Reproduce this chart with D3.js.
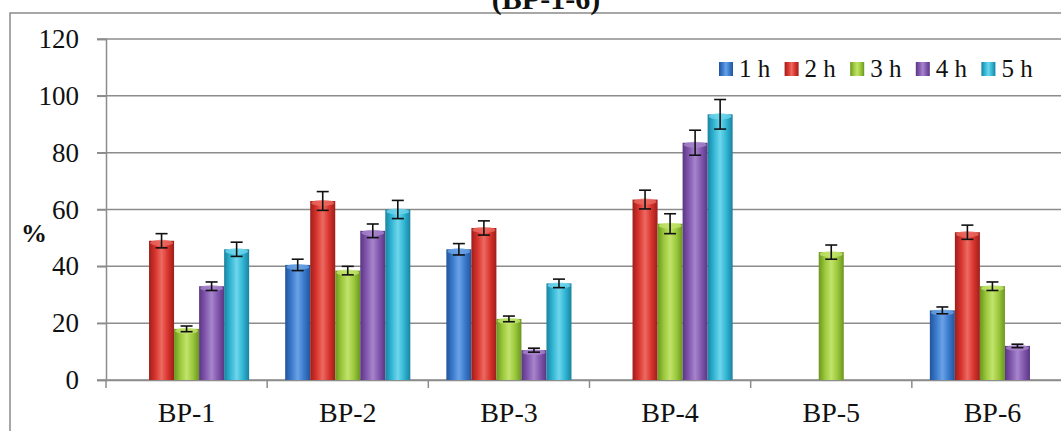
<!DOCTYPE html>
<html>
<head>
<meta charset="utf-8">
<script src="https://cdn.jsdelivr.net/npm/d3@7"></script>
<style>
  html, body { margin: 0; padding: 0; background: #fff; overflow: hidden; }
</style>
</head>
<body>
<div id="chart"></div>
<script>
const categories = ['BP-1', 'BP-2', 'BP-3', 'BP-4', 'BP-5', 'BP-6'];
const seriesNames = ['1 h', '2 h', '3 h', '4 h', '5 h'];
const yTicks = [0, 20, 40, 60, 80, 100, 120];

// values (null = no bar)
const h1 = [null, 40.5, 46, null, null, 24.5];
const h2 = [49, 63, 53.5, 63.5, null, 52];
const h3 = [18, 38.5, 21.5, 55, 45, 33];
const h4 = [33, 52.5, 10.5, 83.5, null, 12];
const h5 = [46, 60, 34, 93.5, null, null];

const e1 = [null, 2, 2, null, null, 1.2];
const e2 = [2.5, 3.3, 2.5, 3.3, null, 2.5];
const e3 = [1, 1.5, 1, 3.5, 2.5, 1.5];
const e4 = [1.5, 2.4, 0.7, 4.4, null, 0.6];
const e5 = [2.5, 3.2, 1.5, 5.2, null, null];

const seriesValues = [h1, h2, h3, h4, h5];
const seriesErrors = [e1, e2, e3, e4, e5];
const colors = [
  { base: '#3a7acc', dark: '#23549a', light: '#6aa2e6' },
  { base: '#d8342d', dark: '#9e1e1a', light: '#ec6a62' },
  { base: '#9bc83b', dark: '#6a961f', light: '#c2e36c' },
  { base: '#8257ae', dark: '#5a3683', light: '#a785cc' },
  { base: '#30b6d4', dark: '#1a82a0', light: '#6fd6ec' }
];

const serif = '"Liberation Serif", "Times New Roman", Times, serif';
const width = 1061, height = 431;
const svg = d3.select('#chart').append('svg')
  .attr('width', width)
  .attr('height', height);

const defs = svg.append('defs');
colors.forEach((c, i) => {
  const g = defs.append('linearGradient')
    .attr('id', 'grad' + i)
    .attr('x1', '0%').attr('x2', '100%').attr('y1', '0%').attr('y2', '0%');
  g.append('stop').attr('offset', '0%').attr('stop-color', c.dark);
  g.append('stop').attr('offset', '25%').attr('stop-color', c.base);
  g.append('stop').attr('offset', '50%').attr('stop-color', c.light);
  g.append('stop').attr('offset', '75%').attr('stop-color', c.base);
  g.append('stop').attr('offset', '100%').attr('stop-color', c.dark);
});

// outer frame
svg.append('rect')
  .attr('x', 10).attr('y', 13)
  .attr('width', 1200).attr('height', 600)
  .attr('fill', 'none')
  .attr('stroke', '#8a8a8a')
  .attr('stroke-width', 1.5);

// title (cut off at top, as in the source)
svg.append('text')
  .attr('x', 546).attr('y', 9)
  .attr('text-anchor', 'middle')
  .style('font-family', serif)
  .style('font-size', '30px')
  .style('font-weight', 'bold')
  .attr('fill', '#111')
  .text('(BP-1-6)');

const x0 = d3.scaleBand().domain(categories).range([106, 1073]).paddingInner(0).paddingOuter(0);
const x1 = d3.scaleBand().domain(seriesNames).range([0, x0.bandwidth()]).paddingInner(0).paddingOuter(0.72);
const y = d3.scaleLinear().domain([0, 120]).range([380, 39]);

// gridlines
svg.append('g')
  .selectAll('line')
  .data(yTicks)
  .join('line')
  .attr('x1', 97).attr('x2', width)
  .attr('y1', d => y(d)).attr('y2', d => y(d))
  .attr('stroke', '#8c8c8c')
  .attr('stroke-width', 1.5);

// y axis
const yAxis = svg.append('g')
  .attr('transform', 'translate(106,0)')
  .call(d3.axisLeft(y).tickValues(yTicks).tickSize(9).tickPadding(18));
yAxis.select('.domain').attr('stroke', '#8c8c8c').attr('stroke-width', 1.5);
yAxis.selectAll('.tick line').attr('stroke', '#8c8c8c').attr('stroke-width', 1.5);
yAxis.selectAll('.tick text')
  .style('font-family', serif)
  .style('font-size', '27px')
  .attr('fill', '#111');

// x axis
const xAxis = svg.append('g')
  .attr('transform', 'translate(0,' + y(0) + ')')
  .call(d3.axisBottom(x0).tickSize(0).tickPadding(22));
xAxis.select('.domain').attr('stroke', '#8c8c8c').attr('stroke-width', 1.5);
xAxis.selectAll('.tick text')
  .style('font-family', serif)
  .style('font-size', '28px')
  .attr('fill', '#111');
// category separators
svg.append('g')
  .selectAll('line')
  .data(categories)
  .join('line')
  .attr('x1', d => x0(d)).attr('x2', d => x0(d))
  .attr('y1', y(0)).attr('y2', y(0) + 8)
  .attr('stroke', '#8c8c8c')
  .attr('stroke-width', 1.5);

// bars
const barData = [];
categories.forEach((cat, ci) => {
  seriesNames.forEach((s, si) => {
    const v = seriesValues[si][ci];
    if (v != null) barData.push({ cat, s, si, v, err: seriesErrors[si][ci] });
  });
});

const bars = svg.append('g');
bars.selectAll('rect')
  .data(barData)
  .join('rect')
  .attr('x', d => x0(d.cat) + x1(d.s))
  .attr('y', d => y(d.v))
  .attr('width', x1.bandwidth())
  .attr('height', d => y(0) - y(d.v))
  .attr('fill', d => 'url(#grad' + d.si + ')');

// light top caps
bars.selectAll('ellipse')
  .data(barData)
  .join('ellipse')
  .attr('cx', d => x0(d.cat) + x1(d.s) + x1.bandwidth() / 2)
  .attr('cy', d => y(d.v) + 2)
  .attr('rx', x1.bandwidth() / 2 - 1)
  .attr('ry', 3)
  .attr('fill', d => colors[d.si].light)
  .attr('opacity', 0.8);

// error bars
const eb = svg.append('g').attr('stroke', '#111').attr('stroke-width', 1.6);
barData.forEach(d => {
  const cx = x0(d.cat) + x1(d.s) + x1.bandwidth() / 2;
  const top = y(d.v + d.err), bot = y(d.v - d.err);
  eb.append('line').attr('x1', cx).attr('x2', cx).attr('y1', top).attr('y2', bot);
  eb.append('line').attr('x1', cx - 6).attr('x2', cx + 6).attr('y1', top).attr('y2', top);
  eb.append('line').attr('x1', cx - 6).attr('x2', cx + 6).attr('y1', bot).attr('y2', bot);
});

// % label
svg.append('text')
  .attr('x', 34).attr('y', 242)
  .attr('text-anchor', 'middle')
  .style('font-family', serif)
  .style('font-size', '26px')
  .style('font-weight', 'bold')
  .attr('fill', '#111')
  .text('%');

// legend
const legend = svg.append('g');
seriesNames.forEach((s, i) => {
  const lx = 719 + i * 65.6;
  legend.append('rect')
    .attr('x', lx).attr('y', 62)
    .attr('width', 14).attr('height', 14)
    .attr('fill', 'url(#grad' + i + ')');
  legend.append('text')
    .attr('x', lx + 20).attr('y', 77)
    .style('font-family', serif)
    .style('font-size', '25px')
    .attr('fill', '#111')
    .text(s);
});
</script>
</body>
</html>
